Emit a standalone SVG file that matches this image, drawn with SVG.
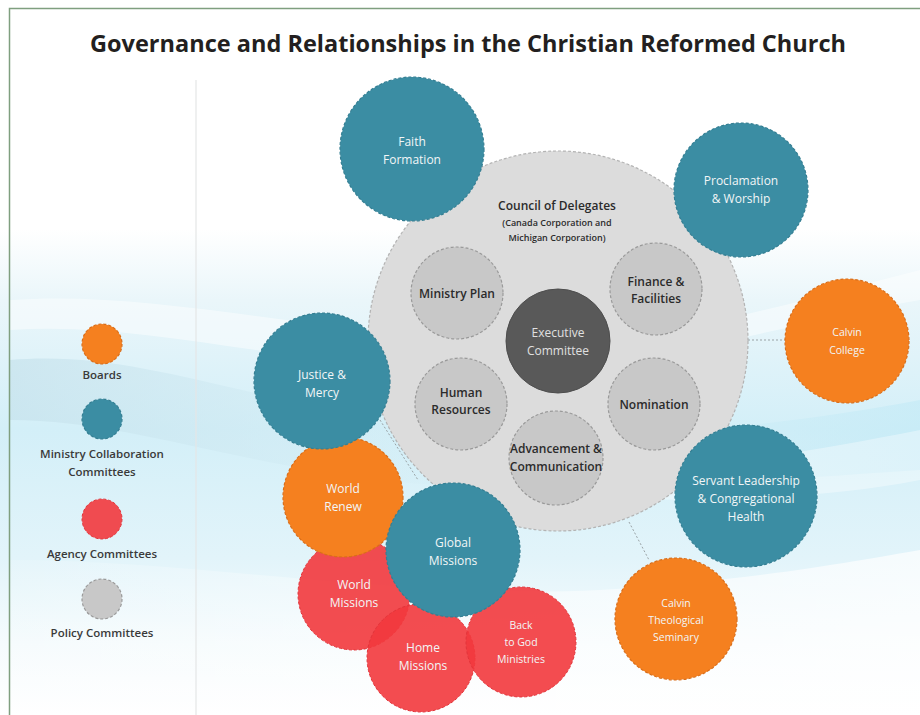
<svg xmlns="http://www.w3.org/2000/svg" width="920" height="715" viewBox="0 0 920 715">
  <defs>
    <linearGradient id="sky" x1="0" y1="0" x2="0" y2="1">
      <stop offset="0" stop-color="#ffffff"/>
      <stop offset="0.32" stop-color="#ffffff"/>
      <stop offset="0.42" stop-color="#eaf6fa"/>
      <stop offset="0.6" stop-color="#d3eff8"/>
      <stop offset="0.78" stop-color="#e2f4fa"/>
      <stop offset="0.9" stop-color="#f5fbfd"/>
      <stop offset="1" stop-color="#ffffff"/>
    </linearGradient>
    <linearGradient id="waveA" x1="0" y1="0" x2="1" y2="0">
      <stop offset="0" stop-color="#c6e2ec" stop-opacity="0.7"/>
      <stop offset="0.5" stop-color="#d5eef6" stop-opacity="0.3"/>
      <stop offset="1" stop-color="#c2eaf6" stop-opacity="0.6"/>
    </linearGradient>
    <linearGradient id="waveB" x1="0" y1="0" x2="1" y2="0">
      <stop offset="0" stop-color="#ffffff" stop-opacity="0.1"/>
      <stop offset="0.6" stop-color="#ffffff" stop-opacity="0.5"/>
      <stop offset="1" stop-color="#ffffff" stop-opacity="0.7"/>
    </linearGradient>
  </defs>
  <style>
    .title { font-family: "Open Sans", "Noto Sans", "Liberation Sans", sans-serif; font-weight: 700; font-size: 24px; fill: #231f20; }
    .lbl { font-family: "Open Sans", "Noto Sans", "Liberation Sans", sans-serif; font-size: 12px; text-anchor: middle; }
    .sm { font-size: 10.5px; }
    .tiny { font-size: 9px; }
    .w { fill: #f2f6f7; }
    .d { fill: #2b2b2b; font-weight: 600; }
    .leg { fill: #3a3a3a; font-size: 11.5px; font-weight: 600; }
    .teal { fill: #3b8da3; stroke: #357f93; stroke-width: 1.2; stroke-dasharray: 3 2; }
    .orange { fill: #f5801f; stroke: #d96e1a; stroke-width: 1.2; stroke-dasharray: 3 2; }
    .red { fill: #f2383d; fill-opacity: 0.9; stroke: #e2343a; stroke-width: 1; stroke-dasharray: 3 2; }
    .council { fill: #dcdcdc; stroke: #b3b3b3; stroke-width: 1.2; stroke-dasharray: 3 2; }
    .policy { fill: #c8c8c8; stroke: #9a9a9a; stroke-width: 1.2; stroke-dasharray: 3 2; }
    .exec { fill: #595959; stroke: #4d4d4d; stroke-width: 1; }
    .link { stroke: #9aa3a6; stroke-width: 1; stroke-dasharray: 2 2; fill: none; }
  </style>

  <!-- page background with soft waves -->
  <rect x="0" y="0" width="920" height="715" fill="url(#sky)"/>
  <path d="M10 360 C 120 350, 220 390, 380 420 C 560 450, 760 430, 920 400 L 920 470 C 760 480, 560 500, 380 480 C 220 460, 120 420, 10 420 Z" fill="url(#waveA)"/>
  <path d="M10 300 C 150 290, 300 330, 480 340 C 650 350, 800 300, 920 270 L 920 300 C 800 320, 650 370, 480 370 C 300 370, 150 320, 10 330 Z" fill="#ffffff" fill-opacity="0.45"/>
  <path d="M10 560 C 200 560, 400 600, 600 590 C 760 580, 860 560, 920 550 L 920 715 L 10 715 Z" fill="url(#waveB)"/>
  <path d="M600 470 C 700 470, 820 450, 920 430 L 920 480 C 820 500, 700 500, 600 500 Z" fill="#ffffff" fill-opacity="0.35"/>

  <!-- frame -->
  <path d="M9.5 715 L 9.5 8.5 L 920 8.5" fill="none" stroke="#7f9f7f" stroke-width="1.5"/>
  <line x1="196" y1="80" x2="196" y2="715" stroke="#e4e6e6" stroke-width="1.2"/>

  <text class="title" x="468" y="52" text-anchor="middle" textLength="756" lengthAdjust="spacingAndGlyphs">Governance and Relationships in the Christian Reformed Church</text>

  <!-- legend -->
  <g id="legend">
    <circle class="orange" cx="102" cy="344" r="20"/>
    <text class="lbl leg" x="102" y="379">Boards</text>
    <circle class="teal" cx="102" cy="419" r="20"/>
    <text class="lbl leg" x="102" y="458">Ministry Collaboration</text>
    <text class="lbl leg" x="102" y="476">Committees</text>
    <circle class="red" cx="102" cy="519" r="20"/>
    <text class="lbl leg" x="102" y="558">Agency Committees</text>
    <circle class="policy" cx="102" cy="599" r="20"/>
    <text class="lbl leg" x="102" y="637">Policy Committees</text>
  </g>

  <!-- connectors -->
  <g id="connectors">
    <line class="link" x1="748" y1="340" x2="786" y2="340"/>
    <line class="link" x1="629" y1="522" x2="649" y2="560"/>
    <line class="link" x1="380" y1="420" x2="418" y2="480"/>
  </g>

  <!-- council of delegates and its policy committees -->
  <g id="council">
    <circle class="council" cx="558" cy="341" r="190"/>
    <text class="lbl d" x="557" y="210">Council of Delegates</text>
    <text class="lbl d tiny" x="557" y="226">(Canada Corporation and</text>
    <text class="lbl d tiny" x="557" y="241">Michigan Corporation)</text>
  </g>
  <g id="ministry-plan">
    <circle class="policy" cx="457" cy="293" r="46"/>
    <text class="lbl d" x="457" y="298">Ministry Plan</text>
  </g>
  <g id="finance">
    <circle class="policy" cx="656" cy="289" r="46"/>
    <text class="lbl d" x="656" y="286">Finance &amp;</text>
    <text class="lbl d" x="656" y="303">Facilities</text>
  </g>
  <g id="executive">
    <circle class="exec" cx="558" cy="341" r="52"/>
    <text class="lbl" fill="#e0e0e0" x="558" y="337">Executive</text>
    <text class="lbl" fill="#e0e0e0" x="558" y="355">Committee</text>
  </g>
  <g id="human-resources">
    <circle class="policy" cx="461" cy="404" r="46"/>
    <text class="lbl d" x="461" y="397">Human</text>
    <text class="lbl d" x="461" y="414">Resources</text>
  </g>
  <g id="nomination">
    <circle class="policy" cx="654" cy="404" r="46"/>
    <text class="lbl d" x="654" y="409">Nomination</text>
  </g>
  <g id="advancement">
    <circle class="policy" cx="556" cy="458" r="47"/>
    <text class="lbl d" x="556" y="453">Advancement &amp;</text>
    <text class="lbl d" x="556" y="471">Communication</text>
  </g>

  <!-- ministry collaboration committees and boards -->
  <g id="faith-formation">
    <circle class="teal" cx="412" cy="149" r="72"/>
    <text class="lbl w" x="412" y="146">Faith</text>
    <text class="lbl w" x="412" y="164">Formation</text>
  </g>
  <g id="proclamation">
    <circle class="teal" cx="741" cy="190" r="67"/>
    <text class="lbl w" x="741" y="185">Proclamation</text>
    <text class="lbl w" x="741" y="203">&amp; Worship</text>
  </g>
  <g id="calvin-college">
    <circle class="orange" cx="847" cy="341" r="62"/>
    <text class="lbl w sm" x="847" y="336">Calvin</text>
    <text class="lbl w sm" x="847" y="354">College</text>
  </g>
  <g id="servant-leadership">
    <circle class="teal" cx="746" cy="496" r="71"/>
    <text class="lbl w" x="746" y="485">Servant Leadership</text>
    <text class="lbl w" x="746" y="503">&amp; Congregational</text>
    <text class="lbl w" x="746" y="521">Health</text>
  </g>
  <g id="calvin-seminary">
    <circle class="orange" cx="676" cy="619" r="61"/>
    <text class="lbl w sm" x="676" y="607">Calvin</text>
    <text class="lbl w sm" x="676" y="624">Theological</text>
    <text class="lbl w sm" x="676" y="641">Seminary</text>
  </g>

  <!-- agency cluster -->
  <g id="world-missions">
    <circle class="red" cx="354" cy="594" r="56"/>
    <text class="lbl w" x="354" y="589">World</text>
    <text class="lbl w" x="354" y="607">Missions</text>
  </g>
  <g id="world-renew">
    <circle class="orange" cx="343" cy="497" r="60"/>
    <text class="lbl w" x="343" y="493">World</text>
    <text class="lbl w" x="343" y="511">Renew</text>
  </g>
  <g id="justice-mercy">
    <circle class="teal" cx="322" cy="381" r="68"/>
    <text class="lbl w" x="322" y="379">Justice &amp;</text>
    <text class="lbl w" x="322" y="397">Mercy</text>
  </g>
  <g id="home-missions">
    <circle class="red" cx="421" cy="658" r="54"/>
    <text class="lbl w" x="423" y="652">Home</text>
    <text class="lbl w" x="423" y="670">Missions</text>
  </g>
  <g id="back-to-god">
    <circle class="red" cx="521" cy="642" r="55"/>
    <text class="lbl w sm" x="521" y="629">Back</text>
    <text class="lbl w sm" x="521" y="646">to God</text>
    <text class="lbl w sm" x="521" y="663">Ministries</text>
  </g>
  <g id="global-missions">
    <circle class="teal" cx="453" cy="550" r="67"/>
    <text class="lbl w" x="453" y="547">Global</text>
    <text class="lbl w" x="453" y="565">Missions</text>
  </g>
</svg>
